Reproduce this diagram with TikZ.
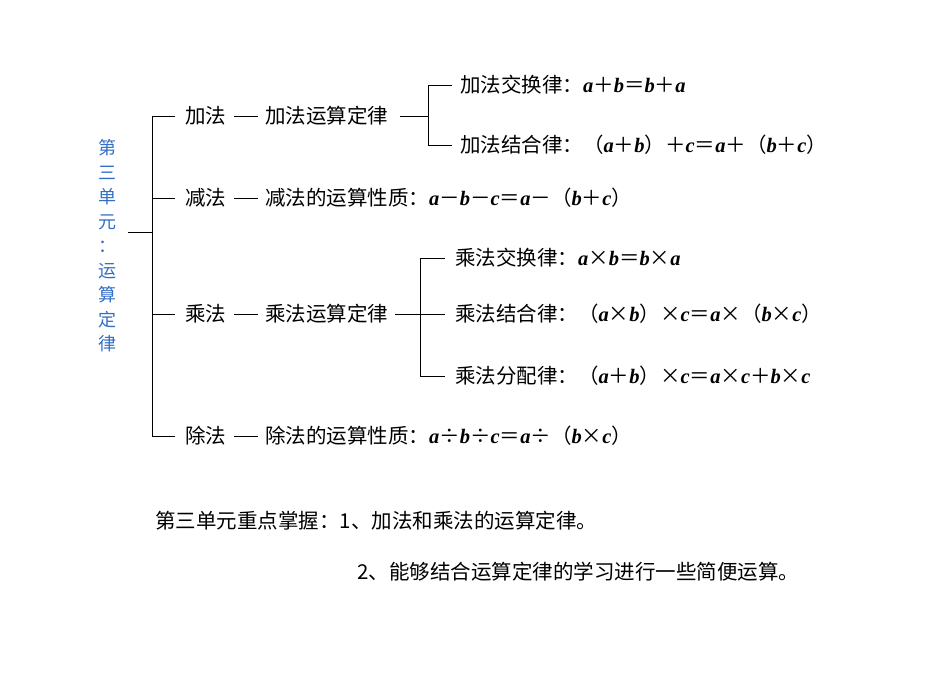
\documentclass[tikz,border=0pt]{standalone}
\usepackage{fontspec}
\setmainfont{Liberation Serif}
\newfontfamily\cjk{Noto Sans CJK SC}
\newcommand{\ml}[1]{{\rmfamily\bfseries\itshape #1}}
\definecolor{titleblue}{RGB}{50,110,200}
\begin{document}
\begin{tikzpicture}[x=1pt,y=-1pt,
  txt/.style={anchor=west,inner sep=0pt,font=\cjk\fontsize{20.5}{22}\selectfont},
  ln/.style={line width=0.8pt,black}]
\useasboundingbox (0,0) rectangle (950,672);
% blue title
\node[inner sep=0pt,text=titleblue,font=\cjk\fontsize{18}{24.5}\selectfont,align=center] (title) at (107,246)
 {第\\三\\单\\元\\：\\运\\算\\定\\律};
\coordinate (t0) at (128,232);
\coordinate (t1) at (152,232);
\draw[ln] (t0) -- (t1);
\draw[ln] (152,116) -- (152,436);
\foreach \y in {116,198,314,436} \draw[ln] (152,\y) -- (175,\y);
% rows
\node[txt] (add) at (185,116) {加法};
\node[txt] (addlaw) at (265,116) {加法运算定律};
\draw[ln] (234,116) -- (258,116);
\draw[ln] (400,116) -- (428,116);
\draw[ln] (428,85) -- (428,145);
\draw[ln] (428,85) -- (452,85);
\draw[ln] (428,145) -- (452,145);
\node[txt] (a1) at (460,85) {加法交换律：\ml{a}＋\ml{b}＝\ml{b}＋\ml{a}};
\node[txt] (a2) at (460,145) {加法结合律：（\ml{a}＋\ml{b}）＋\ml{c}＝\ml{a}＋（\ml{b}＋\ml{c}）};
\node[txt] (sub) at (185,198) {减法};
\draw[ln] (234,198) -- (258,198);
\node[txt] (s1) at (265,198) {减法的运算性质：\ml{a}－\ml{b}－\ml{c}＝\ml{a}－（\ml{b}＋\ml{c}）};
\node[txt] (mul) at (185,314) {乘法};
\draw[ln] (234,314) -- (258,314);
\node[txt] (mullaw) at (265,314) {乘法运算定律};
\draw[ln] (395,314) -- (445,314);
\draw[ln] (420,258) -- (420,376);
\draw[ln] (420,258) -- (445,258);
\draw[ln] (420,376) -- (445,376);
\node[txt] (m1) at (455,258) {乘法交换律：\ml{a}×\ml{b}＝\ml{b}×\ml{a}};
\node[txt] (m2) at (455,314) {乘法结合律：（\ml{a}×\ml{b}）×\ml{c}＝\ml{a}×（\ml{b}×\ml{c}）};
\node[txt] (m3) at (455,376) {乘法分配律：（\ml{a}＋\ml{b}）×\ml{c}＝\ml{a}×\ml{c}＋\ml{b}×\ml{c}};
\node[txt] (div) at (185,436) {除法};
\draw[ln] (234,436) -- (258,436);
\node[txt] (d1) at (265,436) {除法的运算性质：\ml{a}÷\ml{b}÷\ml{c}＝\ml{a}÷（\ml{b}×\ml{c}）};
% bottom
\node[txt] (k1) at (155,521) {第三单元重点掌握：1、加法和乘法的运算定律。};
\node[txt] (k2) at (357,572) {2、能够结合运算定律的学习进行一些简便运算。};
\end{tikzpicture}
\end{document}
